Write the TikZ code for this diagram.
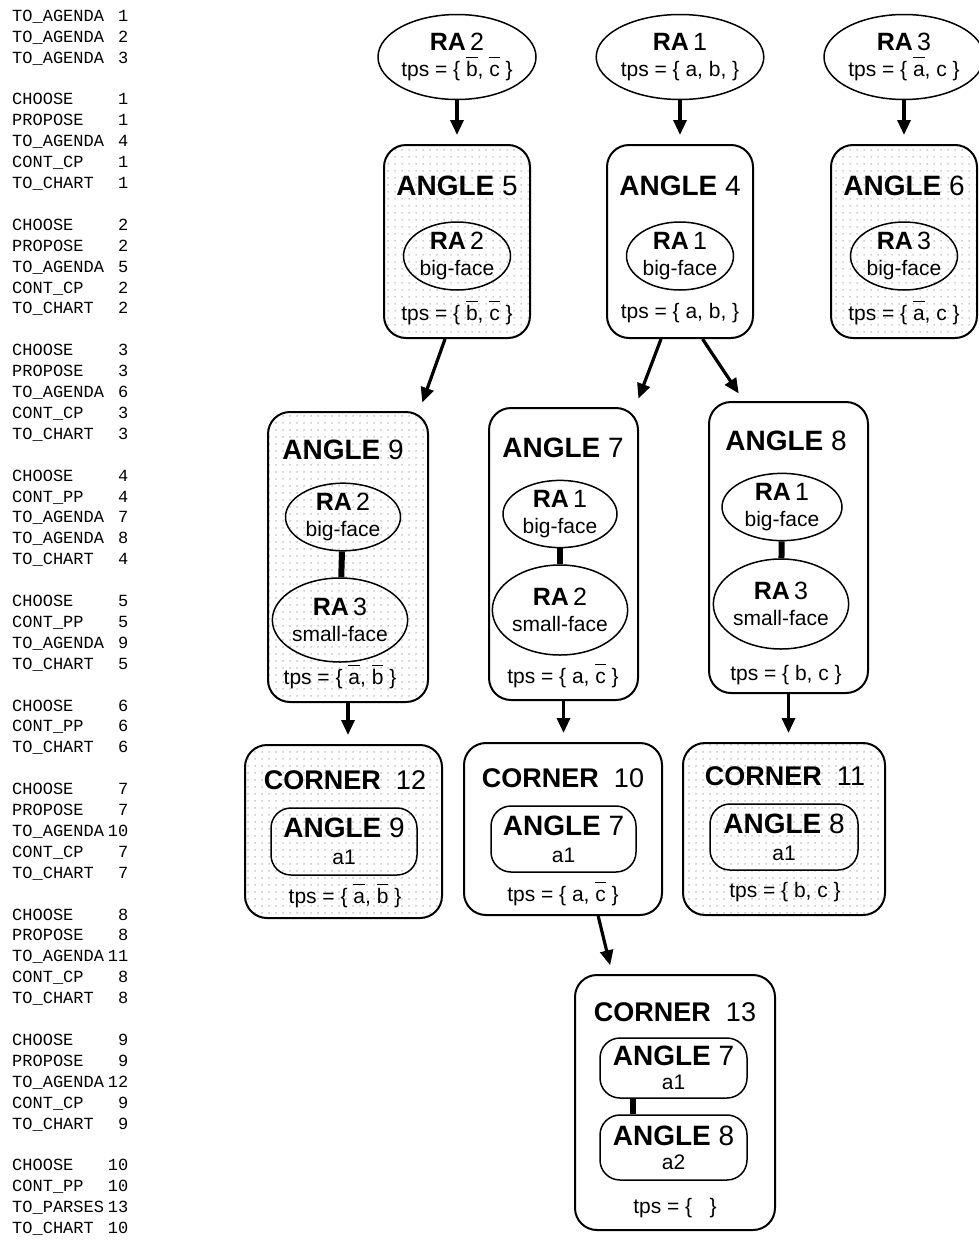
\documentclass[tikz,border=0pt]{standalone}
\usepackage{fontspec}
\setmainfont{Liberation Sans}
\newfontfamily\logfont{Liberation Mono}
\usetikzlibrary{shapes.geometric,arrows.meta,patterns.meta}

\tikzdeclarepattern{
  name=dotgrid,
  type=uncolored,
  bounding box={(0pt,0pt) and (7pt,7pt)},
  tile size={(7pt,7pt)},
  code={\fill (3.5pt,3.5pt) circle [radius=0.75pt];}
}

\newcommand{\nt}[1]{\leavevmode\setbox0=\hbox{#1}\rlap{\raisebox{0.86em}{\rule{\wd0}{1.3pt}}}\box0\relax}
\newcommand{\ralab}[1]{{\fontsize{25}{27}\selectfont\textbf{RA}\,#1}}
\newcommand{\anglab}[1]{{\fontsize{28}{30}\selectfont\textbf{ANGLE} #1}}
\newcommand{\cornlab}[1]{{\fontsize{27}{30}\selectfont\textbf{CORNER}\ \ #1}}

\begin{document}
\begin{tikzpicture}[x=1pt,y=-1pt,
  raoval/.style={draw,ellipse,line width=1.5pt,inner sep=0pt,align=center,font=\fontsize{21}{26}\selectfont},
  angbox/.style={draw,rounded corners=22pt,line width=2pt,inner sep=0pt},
  dotbox/.style={angbox,pattern=dotgrid,pattern color=dotcol},
  inbox/.style={draw,rounded corners=20pt,line width=1.5pt,inner sep=0pt,align=center,font=\fontsize{21}{27}\selectfont},
  tpslab/.style={font=\fontsize{21}{25}\selectfont,inner sep=0pt},
  ttl/.style={inner sep=0pt},
  flow/.style={-{Triangle[length=15pt,width=13pt]},line width=3.2pt,shorten >=9pt},
  link/.style={line width=6pt}]
\definecolor{dotcol}{rgb}{0.45,0.45,0.45}
\useasboundingbox (0,0) rectangle (978,1245);
%
\node[anchor=north west,inner sep=0pt,font=\logfont\fontsize{17}{20.9}\selectfont] (log) at (12,6.5) {%
\begin{tabular}{@{}l@{\hspace{4pt}}r@{}}
TO\_AGENDA & 1\\
TO\_AGENDA & 2\\
TO\_AGENDA & 3\\
 & \\
CHOOSE & 1\\
PROPOSE & 1\\
TO\_AGENDA & 4\\
CONT\_CP & 1\\
TO\_CHART & 1\\
 & \\
CHOOSE & 2\\
PROPOSE & 2\\
TO\_AGENDA & 5\\
CONT\_CP & 2\\
TO\_CHART & 2\\
 & \\
CHOOSE & 3\\
PROPOSE & 3\\
TO\_AGENDA & 6\\
CONT\_CP & 3\\
TO\_CHART & 3\\
 & \\
CHOOSE & 4\\
CONT\_PP & 4\\
TO\_AGENDA & 7\\
TO\_AGENDA & 8\\
TO\_CHART & 4\\
 & \\
CHOOSE & 5\\
CONT\_PP & 5\\
TO\_AGENDA & 9\\
TO\_CHART & 5\\
 & \\
CHOOSE & 6\\
CONT\_PP & 6\\
TO\_CHART & 6\\
 & \\
CHOOSE & 7\\
PROPOSE & 7\\
TO\_AGENDA & 10\\
CONT\_CP & 7\\
TO\_CHART & 7\\
 & \\
CHOOSE & 8\\
PROPOSE & 8\\
TO\_AGENDA & 11\\
CONT\_CP & 8\\
TO\_CHART & 8\\
 & \\
CHOOSE & 9\\
PROPOSE & 9\\
TO\_AGENDA & 12\\
CONT\_CP & 9\\
TO\_CHART & 9\\
 & \\
CHOOSE & 10\\
CONT\_PP & 10\\
TO\_PARSES & 13\\
TO\_CHART & 10
\end{tabular}};
%
\node[raoval,minimum width=158,minimum height=85] (ra2) at (457,57) {\ralab{2}\\tps = \{ \nt{b}, \nt{c} \}};
\node[raoval,minimum width=164,minimum height=85] (ra1) at (680,57) {\ralab{1}\\tps = \{ a, b, \}};
\node[raoval,minimum width=160,minimum height=85] (ra3) at (904,57) {\ralab{3}\\tps = \{ \nt{a}, c \}};
%
\node[dotbox,minimum width=146,minimum height=193] (ang5) at (457,241.5) {};
\node[angbox,minimum width=146,minimum height=193] (ang4) at (680,241.5) {};
\node[dotbox,minimum width=146,minimum height=193] (ang6) at (904,241.5) {};
\node[ttl] (ang5t) at (457,186) {\anglab{5}};
\node[ttl] (ang4t) at (680,186) {\anglab{4}};
\node[ttl] (ang6t) at (904,186) {\anglab{6}};
\node[raoval,minimum width=107,minimum height=68] (a5r) at (457,256) {\ralab{2}\\big-face};
\node[raoval,minimum width=107,minimum height=68] (a4r) at (680,256) {\ralab{1}\\big-face};
\node[raoval,minimum width=107,minimum height=68] (a6r) at (904,256) {\ralab{3}\\big-face};
\node[tpslab] (ang5p) at (457,313) {tps = \{ \nt{b}, \nt{c} \}};
\node[tpslab] (ang4p) at (680,313) {tps = \{ a, b, \}};
\node[tpslab] (ang6p) at (904,313) {tps = \{ \nt{a}, c \}};
%
\node[dotbox,minimum width=160,minimum height=290] (ang9) at (348,557) {};
\node[angbox,minimum width=149,minimum height=292] (ang7) at (563.5,554) {};
\node[angbox,minimum width=159,minimum height=291] (ang8) at (788.5,547.5) {};
\node[ttl] (ang9t) at (343,450) {\anglab{9}};
\node[ttl] (ang7t) at (563,448) {\anglab{7}};
\node[ttl] (ang8t) at (786,441) {\anglab{8}};
\node[raoval,minimum width=115,minimum height=60] (a9t) at (343,517) {\ralab{2}\\big-face};
\node[raoval,minimum width=122,minimum height=84] (a9b) at (340,620) {\ralab{3}\\small-face};
\node[raoval,minimum width=114,minimum height=63] (a7t) at (560,514) {\ralab{1}\\big-face};
\node[raoval,minimum width=120,minimum height=90] (a7b) at (560,610) {\ralab{2}\\small-face};
\node[raoval,minimum width=120,minimum height=64] (a8t) at (782,507) {\ralab{1}\\big-face};
\node[raoval,minimum width=126,minimum height=90] (a8b) at (781,604) {\ralab{3}\\small-face};
\node[tpslab] (ang9p) at (340,677) {tps = \{ \nt{a}, \nt{b} \}};
\node[tpslab] (ang7p) at (563,676) {tps = \{ a, \nt{c} \}};
\node[tpslab] (ang8p) at (786,675) {tps = \{ b, c \}};
%
\node[dotbox,minimum width=197,minimum height=173] (c12) at (343.5,831.5) {};
\node[angbox,minimum width=198,minimum height=172] (c10) at (563,829) {};
\node[dotbox,minimum width=202,minimum height=172] (c11) at (784,829) {};
\node[ttl] (c12t) at (345,780) {\cornlab{12}};
\node[ttl] (c10t) at (563,778) {\cornlab{10}};
\node[ttl] (c11t) at (785,776) {\cornlab{11}};
\node[inbox,minimum width=146,minimum height=67] (c12a) at (344,841.5) {\anglab{9}\\a1};
\node[inbox,minimum width=145,minimum height=66] (c10a) at (563.5,839) {\anglab{7}\\a1};
\node[inbox,minimum width=148,minimum height=66] (c11a) at (784,837) {\anglab{8}\\a1};
\node[tpslab] (c12p) at (345,896) {tps = \{ \nt{a}, \nt{b} \}};
\node[tpslab] (c10p) at (563,894) {tps = \{ a, \nt{c} \}};
\node[tpslab] (c11p) at (785,892) {tps = \{ b, c \}};
%
\node[angbox,minimum width=200,minimum height=255] (c13) at (675,1102.5) {};
\node[ttl] (c13t) at (675,1012) {\cornlab{13}};
\node[inbox,minimum width=147,minimum height=60,font=\fontsize{21}{24}\selectfont] (c13a) at (673.5,1068) {\anglab{7}\\a1};
\node[inbox,minimum width=147,minimum height=65,font=\fontsize{21}{24}\selectfont] (c13b) at (673.5,1147.5) {\anglab{8}\\a2};
\node[tpslab] (c13p) at (675,1208) {tps = \{ \ \ \}};
%
\draw[flow] (ra2) -- (ang5);
\draw[flow] (ra1) -- (ang4);
\draw[flow] (ra3) -- (ang6);
\draw[flow] (ang5.-97) -- (ang9.64);
\draw[flow] (ang4.-101) -- (ang7.64);
\draw[flow] (ang4.-77) -- (ang8.107);
\draw[flow] (ang9.south) -- (ang9.south |- c12.north);
\draw[flow] (ang7.south) -- (ang7.south |- c10.north);
\draw[flow] (ang8.south) -- (ang8.south |- c11.north);
\draw[flow] (c10.-68) -- (c13.116);
%
\draw[link] (a9t) -- (a9b);
\draw[link] (a7t) -- (a7b);
\draw[link] (a8t) -- (a8b);
\draw[link] ([xshift=34pt]c13a.south west) -- ([xshift=34pt]c13b.north west);
%
\end{tikzpicture}
\end{document}
